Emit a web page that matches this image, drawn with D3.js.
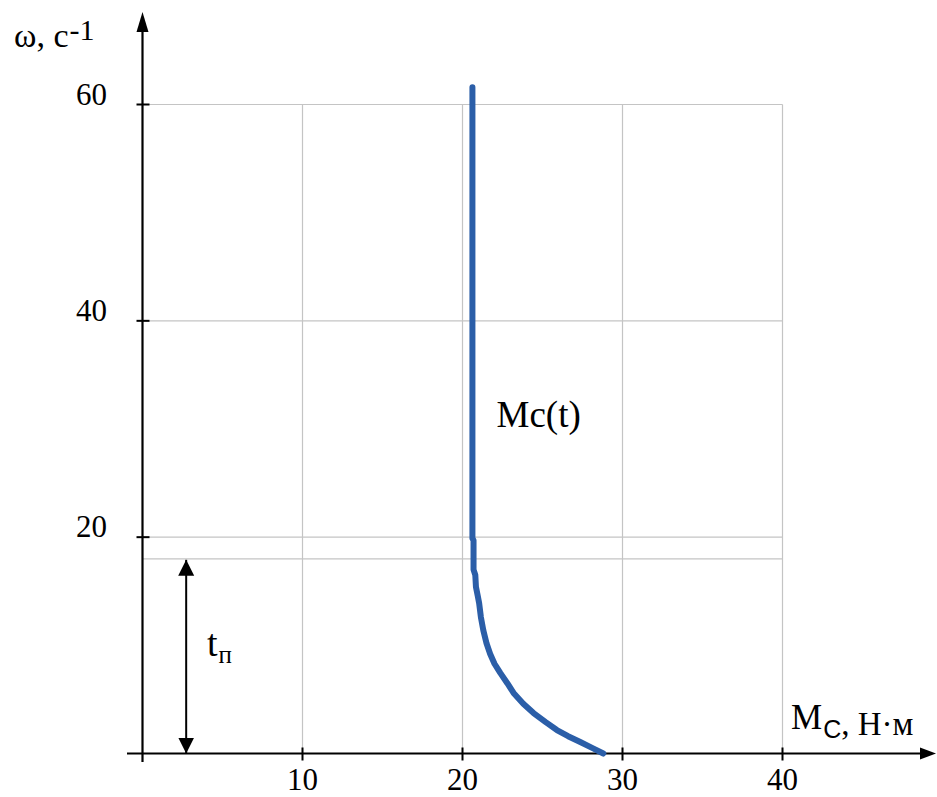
<!DOCTYPE html>
<html>
<head>
<meta charset="utf-8">
<script src="https://cdn.jsdelivr.net/npm/d3@7"></script>
<style>
html,body{margin:0;padding:0;background:#fff;}
svg{display:block;}
text{font-family:"Liberation Serif","Times New Roman",serif;fill:#000;}
</style>
</head>
<body>
<script>
// ---- data ----
const xTicks = [10, 20, 30, 40];
const yTicks = [20, 40, 60];
const tpLevel = 18;           // level of the start-up time marker
const tpArrowX = 2.73;        // x position of the t_п arrow (axis units)
const curveM = [20.62, 20.62, 20.69, 20.69, 20.8, 20.84, 20.95, 21.04, 21.15, 21.3, 21.5, 21.73, 22.0, 22.36, 22.8, 23.19, 23.8, 24.44, 25.2, 25.9, 26.6, 27.36, 28.1, 28.8];
const curveW = [61.6, 19.9, 19.7, 17.0, 16.5, 15.4, 14.6, 13.9, 12.6, 11.4, 10.2, 9.2, 8.3, 7.45, 6.5, 5.6, 4.6, 3.74, 2.9, 2.17, 1.6, 1.06, 0.52, 0];
const curveLabel = "Mc(t)";
const labelPos = [22.0, 30.6];

// ---- layout ----
const W = 937, H = 797;
const x = d3.scaleLinear().domain([0, 40]).range([142.5, 782.5]);
const y = d3.scaleLinear().domain([0, 60]).range([753.5, 104.5]);

const svg = d3.select("body").append("svg").attr("width", W).attr("height", H);
const defs = svg.append("defs");

const grid = "#c4c4c4";
svg.append("g").selectAll("line").data(xTicks).join("line")
  .attr("x1", d => x(d)).attr("x2", d => x(d))
  .attr("y1", y(60)).attr("y2", y(0))
  .attr("stroke", grid).attr("stroke-width", 1.2);
svg.append("g").selectAll("line").data(yTicks.concat([tpLevel])).join("line")
  .attr("x1", x(0)).attr("x2", x(40))
  .attr("y1", d => y(d)).attr("y2", d => y(d))
  .attr("stroke", grid).attr("stroke-width", 1.2);

// axes
svg.append("line").attr("x1", 127).attr("x2", 922).attr("y1", y(0)).attr("y2", y(0))
  .attr("stroke", "#000").attr("stroke-width", 2.2);
svg.append("path").attr("d", `M936,${y(0)} L920,${y(0)-6} L920,${y(0)+6} Z`).attr("fill", "#000");
svg.append("line").attr("x1", x(0)).attr("x2", x(0)).attr("y1", 762).attr("y2", 28)
  .attr("stroke", "#000").attr("stroke-width", 2.2);
svg.append("path").attr("d", `M${x(0)},12 L${x(0)-6},32 L${x(0)+6},32 Z`).attr("fill", "#000");

// ticks
svg.append("g").selectAll("line").data(xTicks).join("line")
  .attr("x1", d => x(d)).attr("x2", d => x(d))
  .attr("y1", y(0) - 6).attr("y2", y(0) + 7)
  .attr("stroke", "#000").attr("stroke-width", 2);
svg.append("g").selectAll("line").data(yTicks).join("line")
  .attr("x1", x(0) - 6).attr("x2", x(0) + 7)
  .attr("y1", d => y(d)).attr("y2", d => y(d))
  .attr("stroke", "#000").attr("stroke-width", 2);

// tick labels
svg.append("g").selectAll("text").data(xTicks).join("text")
  .attr("x", d => x(d)).attr("y", 790)
  .attr("text-anchor", "middle").attr("font-size", 31)
  .text(d => d);
svg.append("g").selectAll("text").data(yTicks).join("text")
  .attr("x", 107).attr("y", d => y(d))
  .attr("text-anchor", "end").attr("font-size", 31)
  .text(d => d);

// axis titles
const yt = svg.append("text").attr("x", 14).attr("y", 47).attr("font-size", 34);
yt.append("tspan").text("ω, c");
yt.append("tspan").attr("font-size", 30).attr("dy", -7).attr("dx", 1).text("-");
yt.append("tspan").attr("font-size", 30).text("1");

const xt = svg.append("text").attr("x", 791).attr("y", 729).attr("font-size", 35);
xt.append("tspan").text("M");
xt.append("tspan").attr("font-family", "Liberation Sans, Arial, sans-serif").attr("font-size", 25).attr("dy", 9).attr("dx", 1).text("С");
xt.append("tspan").attr("font-size", 33).attr("dy", -3).text(", Н·м");

// t_п marker arrow
defs.append("marker").attr("id", "ah").attr("viewBox", "0 0 16 18")
  .attr("refX", 16).attr("refY", 8).attr("markerWidth", 16).attr("markerHeight", 18)
  .attr("markerUnits", "userSpaceOnUse").attr("orient", "auto-start-reverse")
  .append("path").attr("d", "M0,0 L16,8 L0,16 Z").attr("fill", "#000");
svg.append("line")
  .attr("x1", x(tpArrowX)).attr("x2", x(tpArrowX))
  .attr("y1", y(tpLevel) + 1).attr("y2", y(0))
  .attr("stroke", "#000").attr("stroke-width", 2)
  .attr("marker-start", "url(#ah)").attr("marker-end", "url(#ah)");
const tp = svg.append("text").attr("x", 207).attr("y", 656).attr("font-size", 38);
tp.append("tspan").text("t");
tp.append("tspan").attr("font-size", 25).attr("dy", 7).attr("dx", 1).text("п");

// curve
const pts = curveM.map((m, i) => [m, curveW[i]]);
svg.append("path").datum(pts)
  .attr("d", d3.line().x(d => x(d[0])).y(d => y(d[1])))
  .attr("fill", "none").attr("stroke", "#2b5ea8").attr("stroke-width", 6)
  .attr("stroke-linecap", "round").attr("stroke-linejoin", "round");

svg.append("text").attr("x", x(labelPos[0]) + 2).attr("y", y(labelPos[1]) + 4)
  .attr("font-size", 37).text(curveLabel);
</script>
</body>
</html>
